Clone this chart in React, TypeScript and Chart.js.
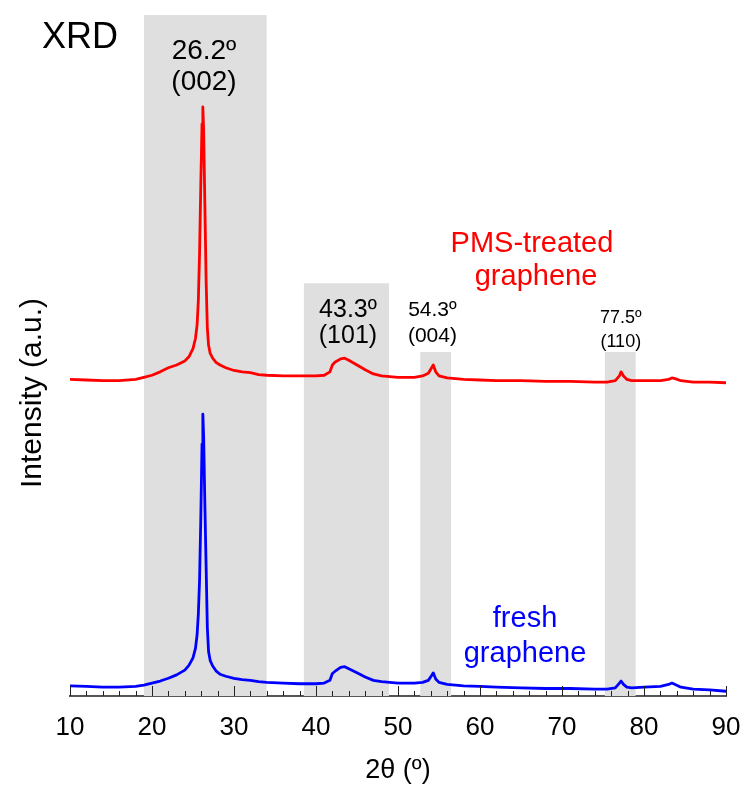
import React, { useEffect, useRef } from 'react';
import { Chart, registerables } from 'chart.js';

Chart.register(...registerables);

// 2θ positions (degrees)
const twoTheta = [
  10, 12, 14, 16, 18, 19, 20, 21, 22, 23, 24, 24.5, 25, 25.3, 25.5, 25.65, 25.8, 25.95, 26.1, 26.2,
  26.3, 26.45, 26.6, 26.75, 26.9, 27.1, 27.4, 27.8, 28.3, 29, 30, 31, 32, 33, 34, 36, 38, 40, 41, 41.7,
  42, 42.3, 43, 43.5, 44, 45, 46, 47, 48, 49, 50, 52, 53, 53.7, 54.1, 54.3, 54.6, 55, 56, 58,
  60, 62, 65, 68, 71, 74, 75.5, 76.5, 77.0, 77.2, 77.5, 77.9, 78.5, 80, 82, 83, 83.4, 83.8, 84.5, 86,
  88, 90,
];

// PMS-treated graphene intensity (a.u., offset trace)
const pmsTreated = [
  46.5, 46.4, 46.3, 46.3, 46.5, 46.8, 47.1, 47.6, 48.2, 48.6, 49.2, 49.8, 51.0, 52.5, 54.5, 58, 65, 75, 84, 86.5,
  83, 72, 61, 54, 51.5, 50.3, 49.6, 49.0, 48.6, 48.2, 47.8, 47.6, 47.5, 47.2, 47.1, 47.0, 47.0, 47.0, 47.1, 47.6,
  48.6, 49.0, 49.5, 49.6, 49.3, 48.6, 47.9, 47.3, 47.0, 46.9, 46.8, 46.8, 47.0, 47.4, 48.2, 48.6, 47.6, 47.0, 46.7, 46.5,
  46.4, 46.3, 46.3, 46.2, 46.2, 46.1, 46.1, 46.3, 47.0, 47.6, 47.0, 46.5, 46.3, 46.3, 46.3, 46.5, 46.7, 46.6, 46.3, 46.1,
  46.1, 46.0,
];

// fresh graphene intensity (a.u.)
const freshGraphene = [
  1.5, 1.4, 1.3, 1.3, 1.4, 1.6, 1.9, 2.2, 2.6, 3.1, 3.8, 4.5, 5.6, 7.0, 9.0, 12, 17, 26, 37, 41.4,
  38, 28, 19, 10, 6.5, 5.2, 4.4, 3.7, 3.2, 2.9, 2.6, 2.4, 2.3, 2.1, 2.0, 1.9, 1.8, 1.8, 1.9, 2.3,
  3.3, 3.6, 4.2, 4.3, 4.0, 3.4, 2.8, 2.3, 2.1, 2.0, 1.9, 1.9, 2.0, 2.3, 3.0, 3.4, 2.5, 2.0, 1.7, 1.5,
  1.4, 1.3, 1.2, 1.1, 1.1, 1.0, 1.0, 1.2, 1.9, 2.2, 1.7, 1.3, 1.2, 1.3, 1.4, 1.7, 1.9, 1.7, 1.3, 1.0,
  0.9, 0.7,
];

// shaded peak regions
const bandStart = [19, 38.5, 52.7, 75.2];
const bandEnd = [34, 48.9, 56.5, 79];
const bandTop = [100, 60.6, 50.5, 50.5];

// axis ticks
const xTickLabels = [10, 20, 30, 40, 50, 60, 70, 80, 90];
const minorTickStep = 2;

const FONT = '"Liberation Sans", Arial, Helvetica, sans-serif';

// text annotations: x in degrees, y in intensity units (baseline)
const notes = [
  { text: 'XRD', x: 11.22, y: 95.15, size: 36, color: '#000000' },
  { text: '26.2º', x: 26.34, y: 93.5, size: 28, color: '#000000' },
  { text: '(002)', x: 26.34, y: 89.0, size: 28, color: '#000000' },
  { text: '43.3º', x: 43.9, y: 55.7, size: 25, color: '#000000' },
  { text: '(101)', x: 43.9, y: 51.8, size: 25, color: '#000000' },
  { text: '54.3º', x: 54.2, y: 55.8, size: 21, color: '#000000' },
  { text: '(004)', x: 54.2, y: 52.0, size: 21, color: '#000000' },
  { text: '77.5º', x: 77.17, y: 54.8, size: 18, color: '#000000' },
  { text: '(110)', x: 77.17, y: 51.3, size: 18, color: '#000000' },
  { text: 'PMS-treated', x: 66.34, y: 65.2, size: 29, color: '#ff0000' },
  { text: 'graphene', x: 66.83, y: 60.35, size: 29, color: '#ff0000' },
  { text: 'fresh', x: 65.49, y: 10.18, size: 29, color: '#0000ff' },
  { text: 'graphene', x: 65.49, y: 5.04, size: 29, color: '#0000ff' },
];

const yTitle = 'Intensity (a.u.)';
const xTitle = '2θ (º)';

const overlayPlugin = {
  id: 'xrdOverlay',
  afterDatasetsDraw(chart: any) {
    const { ctx, chartArea } = chart;
    const xs = chart.scales.x;
    const ys = chart.scales.y;
    ctx.save();
    // tick marks pointing into plot
    ctx.strokeStyle = '#222222';
    ctx.lineWidth = 1;
    for (let v = xs.min; v <= xs.max + 1e-9; v += minorTickStep) {
      const px = Math.round(xs.getPixelForValue(v)) + 0.5;
      const len = xTickLabels.includes(Math.round(v)) ? 10 : 5;
      ctx.beginPath();
      ctx.moveTo(px, chartArea.bottom);
      ctx.lineTo(px, chartArea.bottom - len);
      ctx.stroke();
    }
    // annotations
    ctx.textAlign = 'center';
    ctx.textBaseline = 'alphabetic';
    for (const n of notes) {
      ctx.font = `${n.size}px ${FONT}`;
      ctx.fillStyle = n.color;
      ctx.fillText(n.text, xs.getPixelForValue(n.x), ys.getPixelForValue(n.y));
    }
    // y axis title
    ctx.translate(chartArea.left - 37, ys.getPixelForValue(44.5));
    ctx.rotate(-Math.PI / 2);
    ctx.textBaseline = 'middle';
    ctx.font = `30px ${FONT}`;
    ctx.fillStyle = '#000000';
    ctx.fillText(yTitle, 0, 0);
    ctx.restore();
  },
};

export default function App() {
  const canvasRef = useRef<HTMLCanvasElement | null>(null);

  useEffect(() => {
    const canvas = canvasRef.current;
    if (!canvas) return;

    const bandSets = bandStart.map((s, i) => ({
      label: `band${i}`,
      data: [
        { x: s, y: bandTop[i] },
        { x: bandEnd[i], y: bandTop[i] },
      ],
      borderWidth: 0,
      borderColor: 'rgba(0,0,0,0)',
      backgroundColor: '#dfdfdf',
      fill: 'origin',
      pointRadius: 0,
      order: 2,
    }));

    const chart = new Chart(canvas, {
      type: 'line',
      data: {
        datasets: [
          {
            label: 'PMS-treated graphene',
            data: twoTheta.map((t, i) => ({ x: t, y: pmsTreated[i] })),
            borderColor: '#ff0000',
            borderWidth: 2.8,
            borderJoinStyle: 'round',
            borderCapStyle: 'round',
            pointRadius: 0,
            fill: false,
            tension: 0,
            order: 0,
          },
          {
            label: 'fresh graphene',
            data: twoTheta.map((t, i) => ({ x: t, y: freshGraphene[i] })),
            borderColor: '#0000ff',
            borderWidth: 2.8,
            borderJoinStyle: 'round',
            borderCapStyle: 'round',
            pointRadius: 0,
            fill: false,
            tension: 0,
            order: 0,
          },
          ...bandSets,
        ] as any,
      },
      options: {
        animation: false,
        responsive: false,
        maintainAspectRatio: false,
        layout: { padding: { left: 70, right: 18, top: 15, bottom: 0 } },
        plugins: {
          legend: { display: false },
          tooltip: { enabled: false },
        },
        scales: {
          x: {
            type: 'linear',
            min: 10,
            max: 90,
            z: 1,
            grid: { display: false, drawTicks: false },
            border: { display: true, color: '#555555', width: 2 },
            ticks: {
              stepSize: 10,
              autoSkip: false,
              maxRotation: 0,
              padding: 16,
              color: '#000000',
              font: { family: FONT, size: 26 },
              callback: (v: any) => (xTickLabels.includes(Number(v)) ? String(v) : ''),
            },
            title: {
              display: true,
              text: xTitle,
              color: '#000000',
              font: { family: FONT, size: 27 },
              padding: { top: 0, bottom: 0 },
            },
            afterFit: (scale: any) => {
              scale.height = 91;
              scale.paddingLeft = 0;
              scale.paddingRight = 0;
            },
          },
          y: {
            type: 'linear',
            min: 0,
            max: 100,
            display: false,
          },
        },
      },
      plugins: [overlayPlugin],
    });

    return () => chart.destroy();
  }, []);

  return (
    <div style={{ position: 'fixed', left: 0, top: 0, width: 744, height: 787, background: '#ffffff' }}>
      <canvas ref={canvasRef} width={744} height={787} style={{ display: 'block' }} />
    </div>
  );
}
